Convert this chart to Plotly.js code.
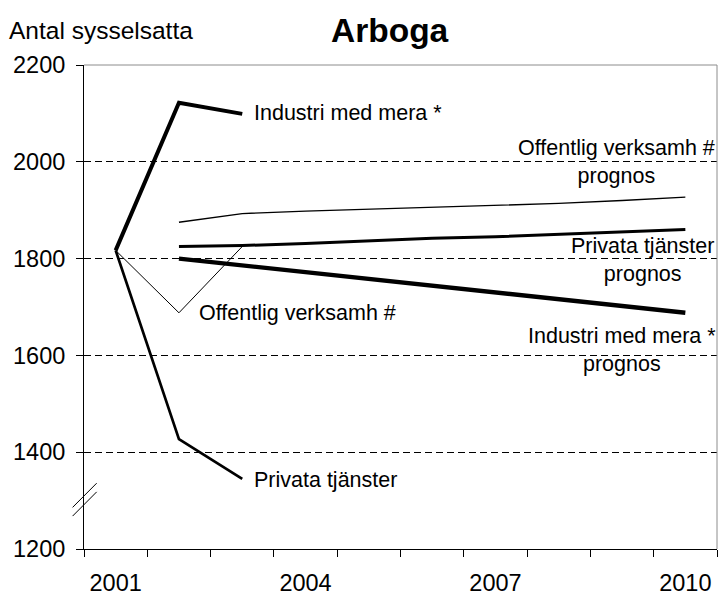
<!DOCTYPE html>
<html>
<head>
<meta charset="utf-8">
<script src="https://cdn.plot.ly/plotly-3.0.1.min.js"></script>
<style>
html,body{margin:0;padding:0;background:#fff;}
#chart{width:719px;height:595px;}
</style>
</head>
<body>
<div id="chart"></div>
<script>
// ---- data ----
var histYears = [2001, 2002, 2003];
var progYears = [2002, 2003, 2004, 2005, 2006, 2007, 2008, 2009, 2010];
var industriHist = [1817, 2122, 2099];
var privataHist = [1817, 1427, 1345];
var offentligHist = [1817, 1688, 1825];
var industriProg = [1800, 1786, 1772, 1758, 1744, 1728, 1714, 1700, 1688];
var privataProg = [1825, 1827, 1831, 1836, 1842, 1845, 1850, 1855, 1860];
var offentligProg = [1875, 1893, 1898, 1902, 1906, 1910, 1914, 1920, 1927];
var xTickVals = [2001, 2004, 2007, 2010];
var xTickText = ['2001', '2004', '2007', '2010'];
var yTickVals = [1200, 1400, 1600, 1800, 2000, 2200];

var FONT = 'Liberation Sans, Arial, sans-serif';

function line(x, y, w) {
  return {x: x, y: y, type: 'scatter', mode: 'lines',
          line: {color: '#000', width: w}, hoverinfo: 'skip', showlegend: false};
}

var data = [
  line(histYears, offentligHist, 1),
  line(progYears, offentligProg, 1.4),
  line(histYears, privataHist, 2.7),
  line(progYears, privataProg, 3),
  line(histYears, industriHist, 4),
  line(progYears, industriProg, 4.4)
];

var annFont = {family: FONT, size: 21.5, color: '#000'};
function ann(text, x, y, xanchor) {
  return {text: text, x: x, y: y, xref: 'x', yref: 'y', showarrow: false,
          xanchor: xanchor, yanchor: 'middle', align: 'center', font: annFont};
}

var layout = {
  width: 719, height: 595,
  margin: {l: 84, r: 2, t: 65, b: 46},
  paper_bgcolor: '#fff', plot_bgcolor: '#fff',
  font: {family: FONT, size: 23.5, color: '#000'},
  showlegend: false,
  xaxis: {
    range: [2000.5, 2010.5],
    tickmode: 'array', tickvals: xTickVals, ticktext: xTickText,
    ticks: '', ticklabelstandoff: 13,
    showgrid: false, zeroline: false,
    showline: true, linecolor: '#000', linewidth: 1,
    tickfont: {family: FONT, size: 23.5, color: '#000'},
    minor: {tickmode: 'linear', tick0: 2000.5, dtick: 1, ticks: 'outside',
            ticklen: 7, tickcolor: '#000', tickwidth: 1, showgrid: false}
  },
  yaxis: {
    range: [1200, 2200],
    tickmode: 'array', tickvals: yTickVals,
    ticks: 'outside', ticklen: 7, tickcolor: '#000', tickwidth: 1,
    ticklabelstandoff: 6,
    showgrid: true, gridcolor: '#000', gridwidth: 1, griddash: '7px,4px',
    zeroline: false, showline: true, linecolor: '#000', linewidth: 1,
    tickfont: {family: FONT, size: 23.5, color: '#000'}
  },
  shapes: [
    {type: 'line', xref: 'paper', yref: 'paper', x0: 0, x1: 1, y0: 1, y1: 1,
     line: {color: '#8c8c8c', width: 1}, layer: 'above'},
    {type: 'line', xref: 'paper', yref: 'paper', x0: 1, x1: 1, y0: 0, y1: 1,
     line: {color: '#8c8c8c', width: 1}, layer: 'above'},
    {type: 'line', xref: 'paper', yref: 'y', x0: -0.018, x1: 0.020, y0: 1286, y1: 1336,
     line: {color: '#000', width: 1}, layer: 'above'},
    {type: 'line', xref: 'paper', yref: 'y', x0: -0.018, x1: 0.020, y0: 1268, y1: 1318,
     line: {color: '#000', width: 1}, layer: 'above'}
  ],
  annotations: [
    {text: '<b>Arboga</b>', xref: 'paper', yref: 'paper', x: 0.484, y: 1, yshift: 35,
     showarrow: false, xanchor: 'center', yanchor: 'middle',
     font: {family: FONT, size: 33.5, color: '#000'}},
    {text: 'Antal sysselsatta', xref: 'paper', yref: 'paper', x: -0.122, y: 1, yshift: 35,
     showarrow: false, xanchor: 'left', yanchor: 'middle',
     font: {family: FONT, size: 24.5, color: '#000'}},
    ann('Industri med mera *', 2003.15, 2101, 'left'),
    ann('Offentlig verksamh #', 2002.28, 1688, 'left'),
    ann('Privata tjänster', 2003.15, 1343, 'left'),
    ann('Offentlig verksamh #<br>prognos', 2008.92, 1999, 'center'),
    ann('Privata tjänster<br>prognos', 2009.32, 1797, 'center'),
    ann('Industri med mera *<br>prognos', 2009.0, 1612, 'center')
  ]
};

Plotly.newPlot('chart', data, layout, {staticPlot: true, displayModeBar: false});
</script>
</body>
</html>
